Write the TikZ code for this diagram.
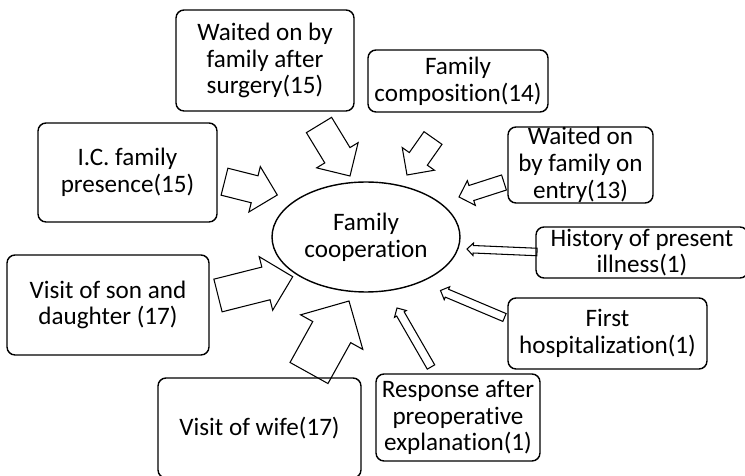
\documentclass[tikz,border=0pt]{standalone}
\usepackage{fontspec}
\setmainfont[Ligatures=NoCommon]{Carlito}
\usepackage{tikz}
\usetikzlibrary{positioning,shapes,calc}

% block arrow from tail to tip: shaft half width, head half width
\newcommand{\blockarrow}[4]{%
\coordinate (hb) at ($(#2)!#4!(#1)$);
\draw[fat] ($(#1)!#3!90:(#2)$) -- ($(hb)!#3!-90:(#1)$) -- ($(hb)!#4!-90:(#1)$) -- (#2)
  -- ($(hb)!#4!90:(#1)$) -- ($(hb)!#3!90:(#1)$) -- ($(#1)!#3!-90:(#2)$) -- cycle;
}

\begin{document}
\begin{tikzpicture}[x=0.02cm, y=-0.02cm,
box/.style={rectangle, rounded corners=0.16cm, draw=black, line width=0.8pt, align=center, inner sep=0pt, font=\fontsize{14.3}{15.2}\selectfont},
coop/.style={ellipse, draw=black, line width=0.8pt, align=center, inner sep=0pt, minimum width=3.76cm, minimum height=2.2cm, font=\fontsize{14.3}{15.2}\selectfont},
fat/.style={draw=black, line width=0.6pt, line join=miter},
]
\useasboundingbox (0,0) rectangle (745,476);

%Centre
\node[coop] (fc) at (366,237) {Family\\cooperation};

%Boxes
\node[box, minimum width=3.56cm, minimum height=2.02cm] (b1) at (265,60.5) {Waited on by\\family after\\surgery(15)};
\node[box, minimum width=3.60cm, minimum height=1.24cm] (b2) at (458,81) {Family\\composition(14)};
\node[box, minimum width=2.90cm, minimum height=1.52cm] (b3) at (580.5,165) {Waited on\\by family on\\entry(13)};
\node[box, minimum width=4.24cm, minimum height=1.02cm] (b4) at (642,252.5) {History of present\\illness(1)};
\node[box, minimum width=3.98cm, minimum height=1.42cm] (b5) at (607.5,333.5) {First\\hospitalization(1)};
\node[box, minimum width=3.28cm, minimum height=1.74cm] (b6) at (458,417.5) {Response after\\preoperative\\explanation(1)};
\node[box, minimum width=4.06cm, minimum height=2.00cm] (b7) at (259.5,428) {Visit of wife(17)};
\node[box, minimum width=4.04cm, minimum height=2.00cm] (b8) at (108,305) {Visit of son and\\daughter (17)};
\node[box, minimum width=3.58cm, minimum height=1.98cm] (b9) at (127.5,172.5) {I.C. family\\presence(15)};

%Arrow ends
\coordinate (t1) at (319,125);   \coordinate (p1) at (350,176);
\coordinate (t2) at (433,138);   \coordinate (p2) at (407,175);
\coordinate (t3) at (504,182.5); \coordinate (p3) at (459,197);
\coordinate (t4) at (537,252);   \coordinate (p4) at (467,249);
\coordinate (t5) at (504.5,317.5); \coordinate (p5) at (440.5,290.5);
\coordinate (t6) at (431,367);   \coordinate (p6) at (397,308);
\coordinate (t7) at (309,373);   \coordinate (p7) at (349,301);
\coordinate (t8) at (218,295.5); \coordinate (p8) at (292.7,276.7);
\coordinate (t9) at (224.5,181.7); \coordinate (p9) at (277.3,195);

%Arrows
\blockarrow{t1}{p1}{0.295cm}{0.486cm}
\blockarrow{t2}{p2}{0.22cm}{0.394cm}
\blockarrow{t3}{p3}{0.158cm}{0.26cm}
\blockarrow{t4}{p4}{0.075cm}{0.125cm}
\blockarrow{t5}{p5}{0.085cm}{0.14cm}
\blockarrow{t6}{p6}{0.086cm}{0.137cm}
\blockarrow{t7}{p7}{0.434cm}{0.712cm}
\blockarrow{t8}{p8}{0.337cm}{0.552cm}
\blockarrow{t9}{p9}{0.278cm}{0.468cm}
\end{tikzpicture}
\end{document}
